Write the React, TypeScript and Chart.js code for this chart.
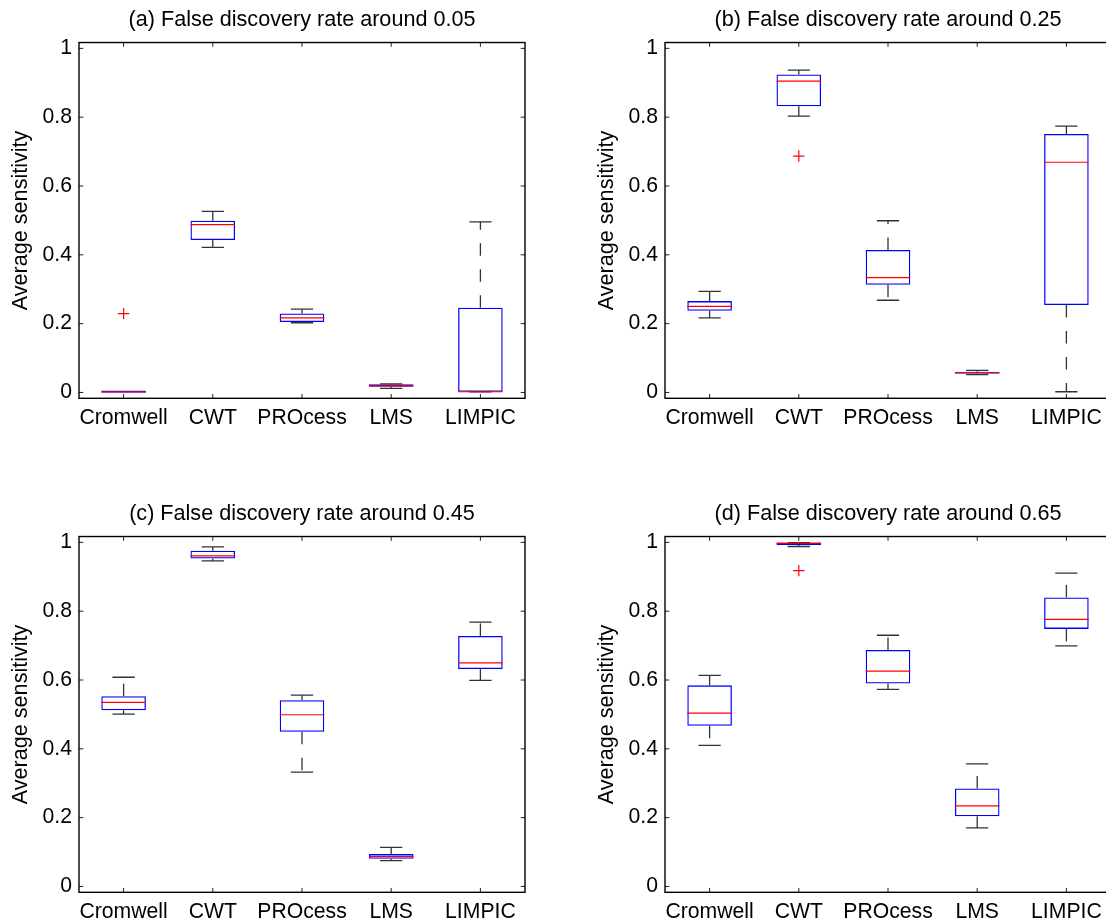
import { useEffect, useRef } from 'react';
import { Chart, registerables } from 'chart.js';

Chart.register(...registerables);

const categories = ['Cromwell', 'CWT', 'PROcess', 'LMS', 'LIMPIC'];
const yTickValues = [0, 0.2, 0.4, 0.6, 0.8, 1];
const yTickLabels = ['0', '0.2', '0.4', '0.6', '0.8', '1'];
const yMin = -0.017;
const yMax = 1.017;
const yAxisTitle = 'Average sensitivity';

// (a)
const titleA = '(a) False discovery rate around 0.05';
const lowA = [0.002, 0.4215, 0.2025, 0.0116, 0.002];
const q1A = [0.002, 0.443, 0.2045, 0.0165, 0.002];
const medA = [0.002, 0.488, 0.217, 0.019, 0.002];
const q3A = [0.002, 0.499, 0.2297, 0.024, 0.246];
const highA = [0.002, 0.526, 0.242, 0.0252, 0.496];
const outA = [0.229, null, null, null, null];

// (b)
const titleB = '(b) False discovery rate around 0.25';
const lowB = [0.217, 0.803, 0.268, 0.052, 0.002];
const q1B = [0.2374, 0.832, 0.313, 0.054, 0.254];
const medB = [0.25, 0.905, 0.334, 0.058, 0.669];
const q3B = [0.2655, 0.924, 0.414, 0.06, 0.751];
const highB = [0.2936, 0.937, 0.499, 0.064, 0.774];
const outB = [null, 0.687, null, null, null];

// (c)
const titleC = '(c) False discovery rate around 0.45';
const lowC = [0.501, 0.946, 0.332, 0.0748, 0.599];
const q1C = [0.512, 0.953, 0.4495, 0.0806, 0.632];
const medC = [0.535, 0.961, 0.499, 0.087, 0.6495];
const q3C = [0.553, 0.976, 0.541, 0.094, 0.728];
const highC = [0.608, 0.987, 0.556, 0.1136, 0.768];
const outC = [null, null, null, null, null];

// (d)
const titleD = '(d) False discovery rate around 0.65';
const lowD = [0.41, 0.988, 0.573, 0.17, 0.699];
const q1D = [0.467, 0.992, 0.59, 0.204, 0.7485];
const medD = [0.504, 0.998, 0.626, 0.234, 0.776];
const q3D = [0.5845, 0.998, 0.687, 0.2845, 0.84];
const highD = [0.6136, 0.999, 0.73, 0.356, 0.9107];
const outD = [null, 0.918, null, null, null];

const FONT = '"Liberation Sans", Arial, Helvetica, sans-serif';
const CANVAS_W = 565;
const CANVAS_H = 440;

type PanelProps = {
  title: string;
  low: number[];
  q1: number[];
  med: number[];
  q3: number[];
  high: number[];
  out: (number | null)[];
  left: number;
  top: number;
};

function BoxPanel(p: PanelProps) {
  const ref = useRef<HTMLCanvasElement | null>(null);

  useEffect(() => {
    if (!ref.current) return;

    const boxPlugin = {
      id: 'boxWhiskers',
      afterDatasetsDraw(chart: any) {
        const { ctx } = chart;
        const x = chart.scales.x;
        const y = chart.scales.y;
        const step = x.getPixelForValue(1) - x.getPixelForValue(0);
        const halfBox = step * 0.25;
        const halfCap = step * 0.125;
        ctx.save();
        categories.forEach((_, i) => {
          const cx = x.getPixelForValue(i);
          const pLow = y.getPixelForValue(p.low[i]);
          const pQ1 = y.getPixelForValue(p.q1[i]);
          const pMed = y.getPixelForValue(p.med[i]);
          const pQ3 = y.getPixelForValue(p.q3[i]);
          const pHigh = y.getPixelForValue(p.high[i]);
          ctx.strokeStyle = '#333333';
          ctx.lineWidth = 1.3;
          ctx.setLineDash([12.5, 13.5]);
          if (Math.abs(pQ3 - pHigh) > 0.5) {
            ctx.beginPath();
            ctx.moveTo(cx, pQ3);
            ctx.lineTo(cx, pHigh);
            ctx.stroke();
          }
          if (Math.abs(pQ1 - pLow) > 0.5) {
            ctx.beginPath();
            ctx.moveTo(cx, pQ1);
            ctx.lineTo(cx, pLow);
            ctx.stroke();
          }
          ctx.setLineDash([]);
          if (Math.abs(pQ3 - pLow) > 0.5) {
            ctx.beginPath();
            ctx.moveTo(cx - halfCap, pHigh);
            ctx.lineTo(cx + halfCap, pHigh);
            ctx.moveTo(cx - halfCap, pLow);
            ctx.lineTo(cx + halfCap, pLow);
            ctx.stroke();
          }
          ctx.strokeStyle = Math.abs(pQ3 - pQ1) < 1 ? '#8a0a8a' : '#ff0000';
          ctx.lineWidth = Math.abs(pQ3 - pQ1) < 1 ? 2 : 1.2;
          ctx.beginPath();
          ctx.moveTo(cx - halfBox, pMed);
          ctx.lineTo(cx + halfBox, pMed);
          ctx.stroke();
        });
        ctx.restore();
      },
    };

    const framePlugin = {
      id: 'matlabFrame',
      afterDraw(chart: any) {
        const { ctx, chartArea } = chart;
        const { left, right, top, bottom } = chartArea;
        const x = chart.scales.x;
        const y = chart.scales.y;
        const tick = 4.3;
        ctx.save();
        ctx.strokeStyle = '#222222';
        ctx.lineWidth = 1;
        ctx.beginPath();
        yTickValues.forEach((v) => {
          const py = y.getPixelForValue(v);
          ctx.moveTo(left, py);
          ctx.lineTo(left + tick, py);
          ctx.moveTo(right, py);
          ctx.lineTo(right - tick, py);
        });
        categories.forEach((_, i) => {
          const px = x.getPixelForValue(i);
          ctx.moveTo(px, bottom);
          ctx.lineTo(px, bottom - tick);
          ctx.moveTo(px, top);
          ctx.lineTo(px, top + tick);
        });
        ctx.stroke();
        ctx.strokeStyle = '#000000';
        ctx.lineWidth = 1.4;
        ctx.strokeRect(left, top, right - left, bottom - top);
        ctx.restore();
      },
    };

    const chart = new Chart(ref.current, {
      type: 'bar',
      data: {
        labels: categories,
        datasets: [
          {
            type: 'bar',
            data: categories.map((_, i) => [p.q1[i], p.q3[i]]) as any,
            backgroundColor: 'rgba(0,0,0,0)',
            borderColor: '#0000ff',
            borderWidth: 1.3,
            borderSkipped: false,
            barPercentage: 0.5,
            categoryPercentage: 1,
            order: 2,
          } as any,
          {
            type: 'line',
            data: p.out as any,
            showLine: false,
            pointStyle: 'cross',
            pointRadius: 5.7,
            pointHoverRadius: 5.7,
            pointBorderColor: '#ff0000',
            pointBackgroundColor: '#ff0000',
            pointBorderWidth: 1.2,
            order: 1,
          } as any,
        ],
      },
      options: {
        responsive: false,
        animation: false,
        devicePixelRatio: 1,
        layout: { padding: { left: 0, right: 40, top: 0, bottom: 0 } },
        plugins: {
          legend: { display: false },
          tooltip: { enabled: false },
          title: {
            display: true,
            text: p.title,
            color: '#000000',
            fullSize: false,
            font: { family: FONT, size: 21.6, weight: 'normal' },
            padding: { top: 7, bottom: 9.6 },
          },
        },
        scales: {
          x: {
            type: 'category',
            offset: true,
            grid: { display: false, drawTicks: false },
            border: { display: false },
            ticks: {
              color: '#000000',
              font: { family: FONT, size: 21.2 },
              padding: 7.3,
              maxRotation: 0,
              autoSkip: false,
            },
            afterFit: (s: any) => {
              s.height = 41.7;
            },
          },
          y: {
            type: 'linear',
            min: yMin,
            max: yMax,
            grid: { display: false, drawTicks: false },
            border: { display: false },
            ticks: {
              color: '#000000',
              font: { family: FONT, size: 21.2 },
              padding: 7,
              callback: (_v: any, i: number) => yTickLabels[i],
            },
            afterBuildTicks: (s: any) => {
              s.ticks = yTickValues.map((v) => ({ value: v }));
            },
            afterFit: (s: any) => {
              s.width = 79;
            },
            title: {
              display: true,
              text: yAxisTitle,
              color: '#000000',
              font: { family: FONT, size: 21.6 },
              padding: { top: 8.5, bottom: 0 },
            },
          },
        },
      } as any,
      plugins: [boxPlugin, framePlugin],
    });

    return () => {
      chart.destroy();
    };
  }, []);

  return (
    <canvas
      ref={ref}
      width={CANVAS_W}
      height={CANVAS_H}
      style={{
        position: 'absolute',
        left: p.left,
        top: p.top,
        width: CANVAS_W,
        height: CANVAS_H,
        display: 'block',
      }}
    />
  );
}

export default function App() {
  return (
    <div
      style={{
        position: 'absolute',
        left: 0,
        top: 0,
        width: 1106,
        height: 922,
        overflow: 'hidden',
        background: '#ffffff',
      }}
    >
      <BoxPanel title={titleA} low={lowA} q1={q1A} med={medA} q3={q3A} high={highA} out={outA} left={0} top={0} />
      <BoxPanel title={titleB} low={lowB} q1={q1B} med={medB} q3={q3B} high={highB} out={outB} left={586} top={0} />
      <BoxPanel title={titleC} low={lowC} q1={q1C} med={medC} q3={q3C} high={highC} out={outC} left={0} top={494} />
      <BoxPanel title={titleD} low={lowD} q1={q1D} med={medD} q3={q3D} high={highD} out={outD} left={586} top={494} />
    </div>
  );
}
